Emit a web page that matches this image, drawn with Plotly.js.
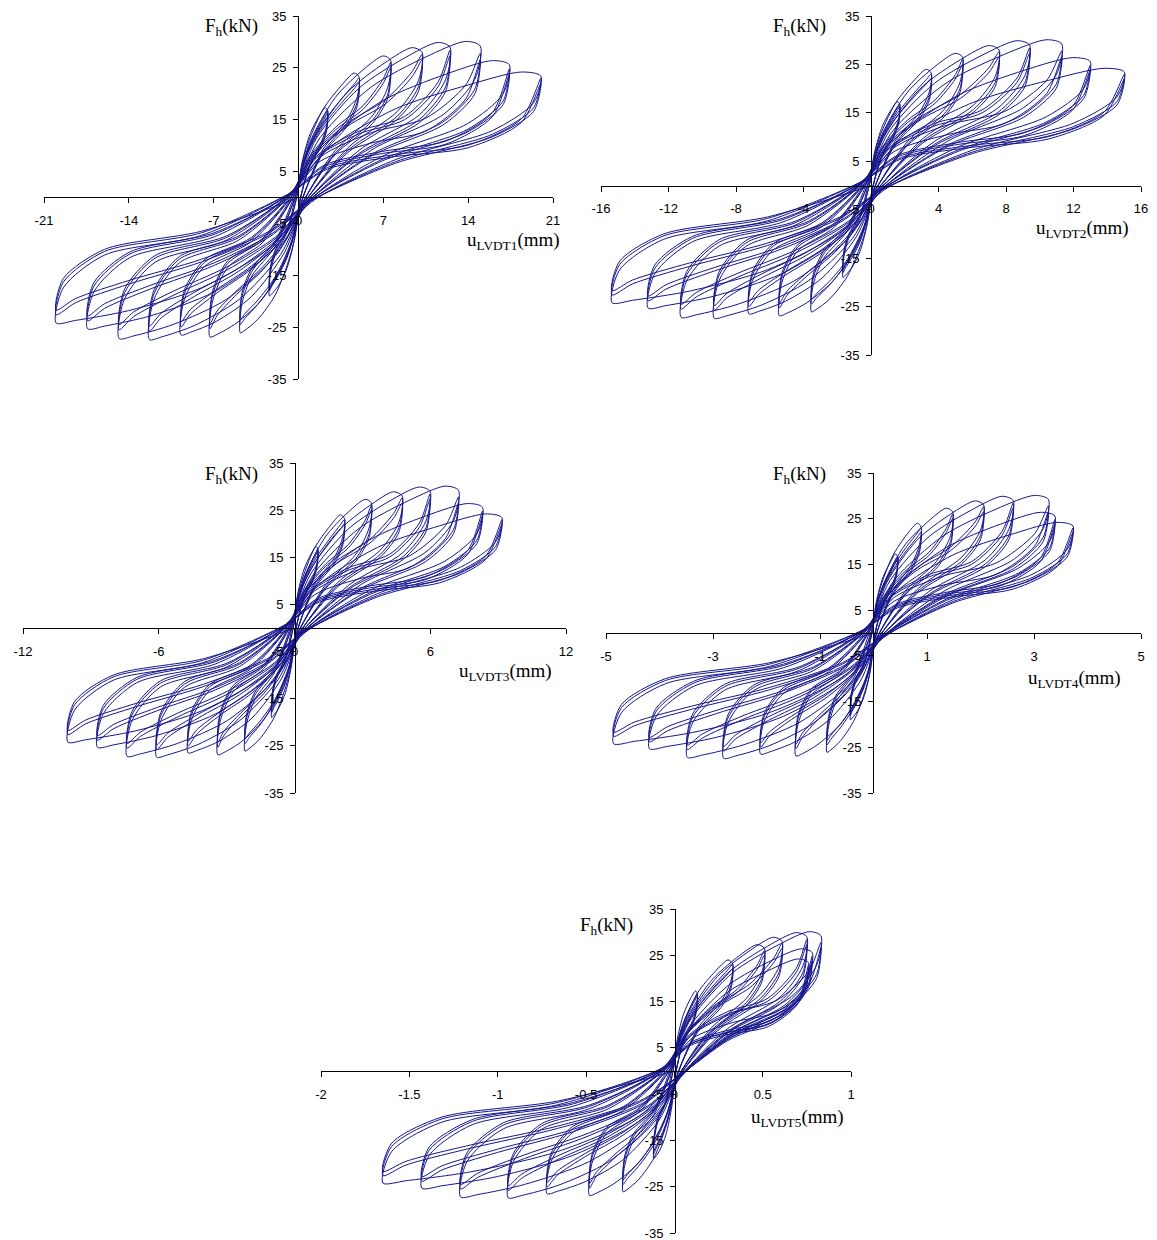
<!DOCTYPE html>
<html><head><meta charset="utf-8">
<script src="https://cdn.plot.ly/plotly-3.0.1.min.js"></script>
<style>html,body{margin:0;padding:0;background:#fff}#chart{width:1157px;height:1240px}</style>
</head><body><div id="chart"></div>
<script>
// Horizontal force F_h (kN), shared by all five LVDT plots; one row per displacement level
// first cycle at each level
const F_cycle1 = [
 [0.5, 6.7, 12.3, 15.6, 17.3, 16.8, 14.0, 10.9, 6.7, -0.8, -7.6, -13.7, -17.1, -18.6, -19.0, -14.8, -11.0, -6.8],
 [0.7, 9.2, 16.9, 21.5, 24.0, 23.2, 19.4, 15.0, 9.2, -1.0, -10.4, -18.8, -23.5, -25.6, -26.1, -20.4, -15.1, -9.4],
 [0.8, 10.5, 19.3, 24.6, 27.3, 26.5, 21.3, 15.7, 9.1, -1.1, -10.8, -19.4, -24.2, -26.4, -26.9, -19.9, -13.5, -8.6],
 [0.9, 11.1, 20.4, 26.0, 28.9, 28.0, 22.5, 16.6, 9.6, -1.1, -10.6, -19.1, -23.9, -26.0, -26.5, -19.6, -13.3, -8.5],
 [0.9, 11.5, 21.1, 26.9, 29.9, 29.0, 22.7, 16.0, 9.1, -1.1, -11.0, -19.7, -24.7, -26.9, -27.4, -19.7, -12.6, -8.2],
 [0.9, 11.6, 21.3, 27.1, 30.1, 29.2, 22.8, 16.1, 9.1, -1.1, -10.9, -19.6, -24.5, -26.7, -27.2, -19.6, -12.5, -8.2],
 [0.8, 10.1, 18.7, 23.8, 26.4, 25.6, 20.0, 14.2, 8.0, -1.0, -10.1, -18.2, -22.8, -24.8, -25.3, -18.2, -11.6, -7.6],
 [0.7, 9.3, 17.1, 21.7, 24.2, 23.4, 18.3, 12.9, 7.3, -1.0, -9.7, -17.4, -21.8, -23.7, -24.2, -17.4, -11.1, -7.3]
];
// second cycle at each level
const F_cycle2 = [
 [0.5, 5.9, 10.4, 13.8, 16.0, 16.8, 13.4, 10.4, 6.4, -0.5, -6.5, -11.7, -15.1, -17.1, -18.0, -14.0, -10.4, -6.5],
 [0.7, 8.1, 14.3, 18.9, 21.9, 23.0, 18.4, 14.3, 8.7, -0.7, -8.8, -15.9, -20.6, -23.3, -24.5, -19.1, -14.2, -8.8],
 [0.8, 7.8, 13.5, 17.7, 22.9, 26.0, 20.0, 14.8, 8.6, -0.8, -7.6, -13.9, -18.7, -22.8, -25.3, -18.7, -12.7, -8.1],
 [0.8, 8.3, 14.4, 18.8, 24.3, 27.6, 21.3, 15.7, 9.1, -0.8, -7.5, -13.8, -18.5, -22.5, -25.0, -18.5, -12.5, -8.0],
 [0.9, 8.0, 12.8, 15.6, 22.2, 28.4, 21.3, 15.1, 8.5, -0.8, -7.7, -14.2, -19.1, -23.2, -25.8, -18.6, -11.9, -7.7],
 [0.8, 7.8, 12.5, 15.3, 21.7, 27.8, 20.9, 14.7, 8.3, -0.8, -7.7, -14.0, -18.9, -23.0, -25.5, -18.4, -11.7, -7.7],
 [0.7, 6.2, 8.9, 10.9, 16.4, 24.8, 18.6, 13.1, 7.4, -0.7, -7.1, -13.1, -17.6, -21.4, -23.8, -17.1, -10.9, -7.1],
 [0.7, 5.8, 8.3, 10.1, 15.2, 23.0, 17.3, 12.2, 6.9, -0.7, -6.8, -12.4, -16.7, -20.3, -22.6, -16.3, -10.4, -6.8]
];
// third cycle at each level
const F_cycle3 = [
 [0.5, 5.7, 10.1, 13.4, 15.5, 16.3, 13.0, 10.1, 6.2, -0.5, -6.3, -11.3, -14.6, -16.6, -17.5, -13.6, -10.1, -6.3],
 [0.7, 7.8, 13.7, 18.1, 21.0, 22.1, 17.7, 13.7, 8.4, -0.7, -8.4, -15.3, -19.8, -22.4, -23.5, -18.3, -13.6, -8.4],
 [0.8, 7.5, 13.0, 17.0, 22.0, 25.0, 19.2, 14.2, 8.3, -0.8, -7.3, -13.3, -18.0, -21.9, -24.3, -18.0, -12.2, -7.8],
 [0.8, 8.0, 13.8, 18.0, 23.3, 26.5, 20.4, 15.1, 8.7, -0.8, -7.2, -13.2, -17.8, -21.6, -24.0, -17.8, -12.0, -7.7],
 [0.9, 7.7, 12.3, 15.0, 21.3, 27.3, 20.4, 14.5, 8.2, -0.8, -7.4, -13.6, -18.3, -22.3, -24.8, -17.9, -11.4, -7.4],
 [0.8, 7.0, 10.5, 12.8, 19.0, 26.6, 20.0, 14.1, 8.0, -0.8, -7.4, -13.4, -18.1, -22.1, -24.5, -17.7, -11.2, -7.4],
 [0.7, 5.9, 8.5, 10.3, 15.6, 23.8, 17.9, 12.6, 7.1, -0.7, -6.8, -12.6, -16.9, -20.5, -22.8, -16.4, -10.5, -6.8],
 [0.7, 5.5, 7.9, 9.6, 14.5, 22.0, 16.6, 11.7, 6.6, -0.7, -6.5, -11.9, -16.0, -19.5, -21.7, -15.6, -10.0, -6.5]
];

// Displacements (mm), one row per displacement level, same point order as the force rows
const u_LVDT1 = [
 [-0.1, 0.29, 0.96, 1.68, 2.21, 2.4, 2.33, 1.92, 0.96, 0.12, -0.29, -0.96, -1.68, -2.21, -2.4, -2.33, -1.92, -0.96],
 [-0.19, 0.6, 2.0, 3.5, 4.6, 5.0, 4.85, 4.0, 2.0, 0.25, -0.58, -1.92, -3.36, -4.42, -4.8, -4.66, -3.84, -1.92],
 [-0.29, 0.91, 3.04, 5.32, 6.99, 7.6, 7.37, 6.08, 3.04, 0.38, -0.88, -2.92, -5.11, -6.72, -7.3, -7.08, -5.84, -2.92],
 [-0.39, 1.22, 4.08, 7.14, 9.38, 10.2, 9.89, 8.16, 4.08, 0.51, -1.16, -3.88, -6.79, -8.92, -9.7, -9.41, -7.76, -3.88],
 [-0.49, 1.5, 5.0, 8.75, 11.5, 12.5, 12.13, 10.0, 5.0, 0.63, -1.48, -4.92, -8.61, -11.32, -12.3, -11.93, -9.84, -4.92],
 [-0.59, 1.8, 6.0, 10.5, 13.8, 15.0, 14.55, 12.0, 6.0, 0.75, -1.78, -5.92, -10.36, -13.62, -14.8, -14.36, -11.84, -5.92],
 [-0.7, 2.09, 6.96, 12.18, 16.01, 17.4, 16.88, 13.92, 6.96, 0.87, -2.09, -6.96, -12.18, -16.01, -17.4, -16.88, -13.92, -6.96],
 [-0.8, 2.4, 8.0, 14.0, 18.4, 20.0, 19.4, 16.0, 8.0, 1.0, -2.4, -8.0, -14.0, -18.4, -20.0, -19.4, -16.0, -8.0]
];
const u_LVDT2 = [
 [-0.07, 0.20, 0.68, 1.19, 1.56, 1.70, 1.65, 1.36, 0.68, 0.09, -0.20, -0.66, -1.16, -1.53, -1.66, -1.61, -1.33, -0.66],
 [-0.14, 0.43, 1.43, 2.50, 3.28, 3.57, 3.46, 2.86, 1.43, 0.18, -0.42, -1.41, -2.47, -3.25, -3.53, -3.42, -2.82, -1.41],
 [-0.22, 0.65, 2.17, 3.80, 5.00, 5.43, 5.27, 4.34, 2.17, 0.27, -0.65, -2.17, -3.80, -5.00, -5.43, -5.27, -4.34, -2.17],
 [-0.29, 0.91, 3.04, 5.31, 6.98, 7.59, 7.36, 6.07, 3.04, 0.38, -0.87, -2.90, -5.07, -6.66, -7.24, -7.02, -5.79, -2.90],
 [-0.37, 1.13, 3.76, 6.58, 8.65, 9.40, 9.12, 7.52, 3.76, 0.47, -1.11, -3.72, -6.50, -8.55, -9.29, -9.01, -7.43, -3.72],
 [-0.45, 1.36, 4.52, 7.92, 10.41, 11.31, 10.97, 9.05, 4.52, 0.57, -1.35, -4.50, -7.88, -10.35, -11.25, -10.91, -9.00, -4.50],
 [-0.53, 1.56, 5.20, 9.09, 11.95, 12.99, 12.60, 10.39, 5.20, 0.65, -1.59, -5.28, -9.25, -12.15, -13.21, -12.81, -10.57, -5.28],
 [-0.61, 1.80, 6.01, 10.51, 13.82, 15.02, 14.57, 12.02, 6.01, 0.75, -1.84, -6.14, -10.75, -14.12, -15.35, -14.89, -12.28, -6.14]
];
const u_LVDT3 = [
 [-0.04, 0.12, 0.41, 0.72, 0.95, 1.03, 1.00, 0.82, 0.41, 0.05, -0.12, -0.40, -0.71, -0.93, -1.01, -0.98, -0.81, -0.40],
 [-0.09, 0.27, 0.88, 1.55, 2.03, 2.21, 2.14, 1.77, 0.88, 0.11, -0.26, -0.88, -1.53, -2.01, -2.19, -2.12, -1.75, -0.88],
 [-0.14, 0.41, 1.36, 2.38, 3.13, 3.40, 3.30, 2.72, 1.36, 0.17, -0.41, -1.36, -2.37, -3.12, -3.39, -3.29, -2.71, -1.36],
 [-0.19, 0.57, 1.90, 3.33, 4.38, 4.76, 4.62, 3.81, 1.90, 0.24, -0.56, -1.88, -3.29, -4.32, -4.70, -4.56, -3.76, -1.88],
 [-0.24, 0.72, 2.40, 4.19, 5.51, 5.99, 5.81, 4.79, 2.40, 0.30, -0.73, -2.44, -4.26, -5.60, -6.09, -5.91, -4.87, -2.44],
 [-0.30, 0.87, 2.90, 5.08, 6.67, 7.25, 7.03, 5.80, 2.90, 0.36, -0.89, -2.96, -5.18, -6.81, -7.40, -7.18, -5.92, -2.96],
 [-0.35, 1.00, 3.32, 5.82, 7.65, 8.31, 8.06, 6.65, 3.32, 0.42, -1.05, -3.48, -6.10, -8.01, -8.71, -8.45, -6.97, -3.48],
 [-0.40, 1.10, 3.67, 6.42, 8.44, 9.17, 8.89, 7.34, 3.67, 0.46, -1.20, -4.01, -7.01, -9.22, -10.02, -9.72, -8.02, -4.01]
];
const u_LVDT4 = [
 [-0.02, 0.05, 0.18, 0.32, 0.41, 0.45, 0.44, 0.36, 0.18, 0.02, -0.05, -0.17, -0.30, -0.40, -0.43, -0.42, -0.34, -0.17],
 [-0.03, 0.11, 0.36, 0.62, 0.82, 0.89, 0.86, 0.71, 0.36, 0.04, -0.10, -0.35, -0.61, -0.80, -0.87, -0.84, -0.70, -0.35],
 [-0.06, 0.18, 0.59, 1.04, 1.36, 1.48, 1.44, 1.18, 0.59, 0.07, -0.17, -0.58, -1.02, -1.33, -1.45, -1.41, -1.16, -0.58],
 [-0.08, 0.25, 0.82, 1.44, 1.90, 2.06, 2.00, 1.65, 0.82, 0.10, -0.25, -0.84, -1.48, -1.94, -2.11, -2.05, -1.69, -0.84],
 [-0.11, 0.31, 1.04, 1.83, 2.40, 2.61, 2.53, 2.09, 1.04, 0.13, -0.34, -1.12, -1.96, -2.58, -2.80, -2.72, -2.24, -1.12],
 [-0.14, 0.39, 1.31, 2.29, 3.01, 3.27, 3.17, 2.62, 1.31, 0.16, -0.42, -1.39, -2.44, -3.20, -3.48, -3.38, -2.78, -1.39],
 [-0.17, 0.41, 1.36, 2.37, 3.12, 3.39, 3.29, 2.71, 1.36, 0.17, -0.50, -1.68, -2.93, -3.85, -4.19, -4.06, -3.35, -1.68],
 [-0.19, 0.45, 1.49, 2.61, 3.43, 3.73, 3.62, 2.98, 1.49, 0.19, -0.58, -1.94, -3.40, -4.47, -4.86, -4.71, -3.89, -1.94]
];
const u_LVDT5 = [
 [-0.005, 0.016, 0.052, 0.091, 0.12, 0.13, 0.126, 0.104, 0.052, 0.007, -0.014, -0.047, -0.082, -0.108, -0.117, -0.113, -0.094, -0.047],
 [-0.012, 0.04, 0.132, 0.231, 0.304, 0.33, 0.32, 0.264, 0.132, 0.017, -0.035, -0.116, -0.203, -0.267, -0.29, -0.281, -0.232, -0.116],
 [-0.019, 0.061, 0.204, 0.357, 0.469, 0.51, 0.495, 0.408, 0.204, 0.026, -0.058, -0.192, -0.336, -0.442, -0.48, -0.466, -0.384, -0.192],
 [-0.029, 0.073, 0.244, 0.427, 0.561, 0.61, 0.592, 0.488, 0.244, 0.031, -0.086, -0.288, -0.504, -0.662, -0.72, -0.698, -0.576, -0.288],
 [-0.038, 0.09, 0.30, 0.525, 0.69, 0.75, 0.728, 0.60, 0.30, 0.038, -0.113, -0.376, -0.658, -0.865, -0.94, -0.912, -0.752, -0.376],
 [-0.048, 0.10, 0.332, 0.581, 0.764, 0.83, 0.805, 0.664, 0.332, 0.042, -0.145, -0.484, -0.847, -1.113, -1.21, -1.174, -0.968, -0.484],
 [-0.057, 0.094, 0.312, 0.546, 0.718, 0.78, 0.757, 0.624, 0.312, 0.039, -0.172, -0.572, -1.001, -1.316, -1.43, -1.387, -1.144, -0.572],
 [-0.066, 0.091, 0.304, 0.532, 0.699, 0.76, 0.737, 0.608, 0.304, 0.038, -0.198, -0.66, -1.155, -1.518, -1.65, -1.6, -1.32, -0.66]
];

// Axis ticks
const yTicks = [-35, -25, -15, -5, 5, 15, 25, 35];
const yTickText = ['-35', '-25', '-15', '-5', '5', '15', '25', '35'];
const xTicks1 = [-21, -14, -7, 0, 7, 14, 21];
const xTickText1 = ['-21', '-14', '-7', '0', '7', '14', '21'];
const xTicks2 = [-16, -12, -8, -4, 0, 4, 8, 12, 16];
const xTickText2 = ['-16', '-12', '-8', '-4', '0', '4', '8', '12', '16'];
const xTicks3 = [-12, -6, 0, 6, 12];
const xTickText3 = ['-12', '-6', '0', '6', '12'];
const xTicks4 = [-5, -3, -1, 1, 3, 5];
const xTickText4 = ['-5', '-3', '-1', '1', '3', '5'];
const xTicks5 = [-2, -1.5, -1, -0.5, 0, 0.5, 1];
const xTickText5 = ['-2', '-1.5', '-1', '-0.5', '0', '0.5', '1'];
const xTitles = ['u<sub>LVDT1</sub>(mm)', 'u<sub>LVDT2</sub>(mm)', 'u<sub>LVDT3</sub>(mm)', 'u<sub>LVDT4</sub>(mm)', 'u<sub>LVDT5</sub>(mm)'];
const yTitle = 'F<sub>h</sub>(kN)';

// ---- layout geometry (pixels) ----
const W = 1157, H = 1240;
const panels = [
  {u: u_LVDT1, xr: [-21, 21], tv: xTicks1, tt: xTickText1, px: [44, 553], py: [16, 379], yx: 298, xy: 197, fh: [231, 27], ut: [513, 241]},
  {u: u_LVDT2, xr: [-16, 16], tv: xTicks2, tt: xTickText2, px: [601, 1141], py: [16, 355], yx: 871, xy: 185.5, fh: [799, 27], ut: [1082, 229]},
  {u: u_LVDT3, xr: [-12, 12], tv: xTicks3, tt: xTickText3, px: [23, 566], py: [463, 793], yx: 295, xy: 628, fh: [231, 475], ut: [505, 672]},
  {u: u_LVDT4, xr: [-5, 5], tv: xTicks4, tt: xTickText4, px: [606, 1141], py: [473, 793], yx: 873, xy: 633, fh: [799, 475], ut: [1074, 679]},
  {u: u_LVDT5, xr: [-2, 1], tv: xTicks5, tt: xTickText5, px: [321, 851], py: [909, 1233], yx: 675, xy: 1071, fh: [606, 926], ut: [797, 1118]}
];

const traces = [];
const layout = {
  width: W, height: H,
  margin: {l: 0, r: 0, t: 0, b: 0},
  paper_bgcolor: '#fff', plot_bgcolor: 'rgba(0,0,0,0)',
  showlegend: false,
  annotations: []
};
const tickFont = {family: 'Liberation Sans, Arial, sans-serif', size: 13, color: '#000'};
const titleFont = {family: 'Liberation Serif, Times New Roman, serif', size: 19, color: '#000'};

panels.forEach((p, i) => {
  const n = i + 1;
  const xs = [], ys = [];
  for (let k = 0; k < p.u.length; k++) {
    xs.push(...p.u[k], ...p.u[k], ...p.u[k]);
    ys.push(...F_cycle1[k], ...F_cycle2[k], ...F_cycle3[k]);
  }
  xs.push(0); ys.push(0);
  traces.push({
    x: xs, y: ys, type: 'scatter', mode: 'lines',
    xaxis: 'x' + (n === 1 ? '' : n), yaxis: 'y' + (n === 1 ? '' : n),
    line: {color: '#16168c', width: 1, shape: 'spline', smoothing: 0.8},
    hoverinfo: 'skip'
  });
  const xk = 'xaxis' + (n === 1 ? '' : n), yk = 'yaxis' + (n === 1 ? '' : n);
  layout[xk] = {
    domain: [p.px[0] / W, p.px[1] / W], range: p.xr,
    anchor: 'free', position: 1 - p.xy / H,
    showline: true, linecolor: '#000', linewidth: 1,
    showgrid: false, zeroline: false,
    ticks: 'outside', ticklen: 5, tickcolor: '#000', tickwidth: 1,
    tickmode: 'array', tickvals: p.tv, ticktext: p.tt,
    tickfont: tickFont, ticklabelstandoff: 6, ticklabeloverflow: 'allow', fixedrange: true
  };
  layout[yk] = {
    domain: [1 - p.py[1] / H, 1 - p.py[0] / H], range: [-35, 35],
    anchor: 'free', position: p.yx / W,
    showline: true, linecolor: '#000', linewidth: 1,
    showgrid: false, zeroline: false,
    ticks: 'outside', ticklen: 5, tickcolor: '#000', tickwidth: 1,
    tickmode: 'array', tickvals: yTicks, ticktext: yTickText,
    tickfont: tickFont, ticklabelstandoff: 4, ticklabeloverflow: 'allow', fixedrange: true
  };
  layout.annotations.push({
    xref: 'paper', yref: 'paper', x: p.fh[0] / W, y: 1 - p.fh[1] / H,
    text: yTitle, showarrow: false, font: titleFont, xanchor: 'center', yanchor: 'middle'
  });
  layout.annotations.push({
    xref: 'paper', yref: 'paper', x: p.ut[0] / W, y: 1 - p.ut[1] / H,
    text: xTitles[i], showarrow: false, font: titleFont, xanchor: 'center', yanchor: 'middle'
  });
});

Plotly.newPlot('chart', traces, layout, {staticPlot: true, displayModeBar: false});
</script>
</body></html>
